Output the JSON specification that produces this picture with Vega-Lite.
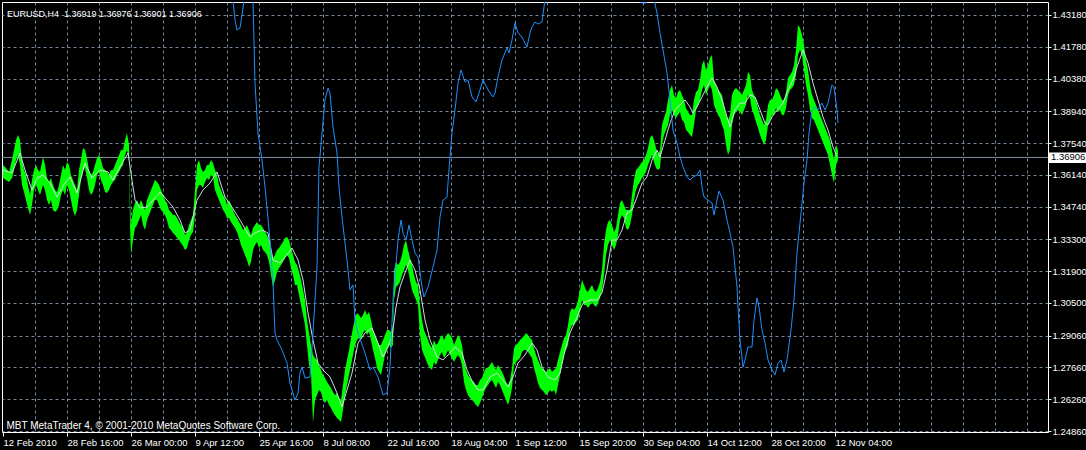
{
"$schema": "https://vega.github.io/schema/vega-lite/v6.json",
"width": 1046, "height": 430,
"autosize": "none",
"padding": {"left": 2, "top": 2, "right": 38, "bottom": 18},
"background": "#000000",
"config": {"view": {"stroke": "#ffffff", "strokeWidth": 1}, "font": "Liberation Sans",
  "axis": {"labelOverlap": false, "labelBound": false, "labelFlush": false},
  "axisY": {"labelOverlap": false}, "axisRight": {"labelOverlap": false}},
"title": {"text": "EURUSD,H4\u00a0 1.36919 1.36976 1.36901 1.36906", "anchor": "start", "frame": "group", "offset": -13, "dy": 11, "baseline": "alphabetic", "color": "#ffffff", "font": "Liberation Sans", "fontSize": 9, "fontWeight": "normal", "dx": 5},
"datasets": {
"px": [
{"i":0,"v":1.3657,"l":1.3600},{"i":3,"v":1.3644,"l":1.3591},{"i":6,"v":1.3627,"l":1.3583},{"i":9,"v":1.3679,"l":1.3600},{"i":11,"v":1.3723,"l":1.3635},{"i":13,"v":1.3767,"l":1.3679},{"i":15,"v":1.3789,"l":1.3701},{"i":17,"v":1.3767,"l":1.3657},{"i":19,"v":1.3679,"l":1.3569},{"i":21,"v":1.3635,"l":1.3538},{"i":23,"v":1.3613,"l":1.3503},{"i":25,"v":1.3569,"l":1.3468},{"i":27,"v":1.3525,"l":1.3437},{"i":29,"v":1.3591,"l":1.3481},{"i":31,"v":1.3635,"l":1.3547},{"i":33,"v":1.3657,"l":1.3569},{"i":35,"v":1.3635,"l":1.3547},{"i":37,"v":1.3627,"l":1.3525},{"i":40,"v":1.3693,"l":1.3569},{"i":42,"v":1.3657,"l":1.3547},{"i":44,"v":1.3600,"l":1.3503},{"i":46,"v":1.3583,"l":1.3481},{"i":48,"v":1.3600,"l":1.3503},{"i":50,"v":1.3569,"l":1.3459},{"i":52,"v":1.3547,"l":1.3450},{"i":54,"v":1.3538,"l":1.3459},{"i":56,"v":1.3569,"l":1.3481},{"i":58,"v":1.3613,"l":1.3525},{"i":60,"v":1.3657,"l":1.3547},{"i":62,"v":1.3635,"l":1.3525},{"i":64,"v":1.3671,"l":1.3569},{"i":66,"v":1.3657,"l":1.3547},{"i":68,"v":1.3613,"l":1.3503},{"i":70,"v":1.3591,"l":1.3459},{"i":72,"v":1.3569,"l":1.3433},{"i":74,"v":1.3547,"l":1.3459},{"i":76,"v":1.3635,"l":1.3525},{"i":78,"v":1.3679,"l":1.3591},{"i":80,"v":1.3732,"l":1.3635},{"i":82,"v":1.3723,"l":1.3644},{"i":84,"v":1.3688,"l":1.3600},{"i":86,"v":1.3635,"l":1.3547},{"i":88,"v":1.3613,"l":1.3525},{"i":90,"v":1.3627,"l":1.3538},{"i":92,"v":1.3657,"l":1.3569},{"i":94,"v":1.3688,"l":1.3613},{"i":96,"v":1.3701,"l":1.3627},{"i":98,"v":1.3679,"l":1.3591},{"i":100,"v":1.3644,"l":1.3569},{"i":102,"v":1.3635,"l":1.3538},{"i":104,"v":1.3627,"l":1.3534},{"i":106,"v":1.3613,"l":1.3547},{"i":108,"v":1.3635,"l":1.3569},{"i":110,"v":1.3635,"l":1.3583},{"i":112,"v":1.3657,"l":1.3591},{"i":114,"v":1.3679,"l":1.3613},{"i":116,"v":1.3701,"l":1.3627},{"i":118,"v":1.3723,"l":1.3644},{"i":120,"v":1.3723,"l":1.3657},{"i":122,"v":1.3767,"l":1.3701},{"i":124,"v":1.3798,"l":1.3723},{"i":126,"v":1.3745,"l":1.3679},{"i":127,"v":1.3503,"l":1.3393},{"i":128,"v":1.3393,"l":1.3261},{"i":130,"v":1.3459,"l":1.3327},{"i":132,"v":1.3490,"l":1.3380},{"i":134,"v":1.3503,"l":1.3393},{"i":136,"v":1.3481,"l":1.3415},{"i":138,"v":1.3503,"l":1.3437},{"i":140,"v":1.3481,"l":1.3393},{"i":142,"v":1.3459,"l":1.3371},{"i":144,"v":1.3503,"l":1.3415},{"i":146,"v":1.3525,"l":1.3437},{"i":148,"v":1.3547,"l":1.3459},{"i":150,"v":1.3569,"l":1.3481},{"i":152,"v":1.3591,"l":1.3503},{"i":154,"v":1.3583,"l":1.3503},{"i":156,"v":1.3569,"l":1.3481},{"i":158,"v":1.3547,"l":1.3459},{"i":160,"v":1.3525,"l":1.3450},{"i":162,"v":1.3503,"l":1.3437},{"i":164,"v":1.3490,"l":1.3415},{"i":166,"v":1.3459,"l":1.3380},{"i":168,"v":1.3450,"l":1.3371},{"i":170,"v":1.3437,"l":1.3358},{"i":172,"v":1.3437,"l":1.3349},{"i":174,"v":1.3424,"l":1.3336},{"i":176,"v":1.3406,"l":1.3327},{"i":178,"v":1.3393,"l":1.3314},{"i":180,"v":1.3380,"l":1.3301},{"i":182,"v":1.3349,"l":1.3283},{"i":184,"v":1.3362,"l":1.3292},{"i":186,"v":1.3393,"l":1.3327},{"i":188,"v":1.3415,"l":1.3349},{"i":190,"v":1.3437,"l":1.3362},{"i":192,"v":1.3547,"l":1.3437},{"i":194,"v":1.3657,"l":1.3547},{"i":196,"v":1.3679,"l":1.3569},{"i":198,"v":1.3644,"l":1.3569},{"i":200,"v":1.3627,"l":1.3556},{"i":202,"v":1.3635,"l":1.3583},{"i":204,"v":1.3657,"l":1.3600},{"i":206,"v":1.3657,"l":1.3591},{"i":208,"v":1.3679,"l":1.3613},{"i":210,"v":1.3666,"l":1.3605},{"i":212,"v":1.3635,"l":1.3547},{"i":214,"v":1.3613,"l":1.3525},{"i":216,"v":1.3569,"l":1.3503},{"i":218,"v":1.3547,"l":1.3481},{"i":220,"v":1.3525,"l":1.3459},{"i":222,"v":1.3512,"l":1.3446},{"i":224,"v":1.3481,"l":1.3424},{"i":226,"v":1.3503,"l":1.3424},{"i":228,"v":1.3481,"l":1.3406},{"i":230,"v":1.3459,"l":1.3393},{"i":232,"v":1.3437,"l":1.3380},{"i":234,"v":1.3424,"l":1.3362},{"i":236,"v":1.3406,"l":1.3336},{"i":238,"v":1.3393,"l":1.3305},{"i":240,"v":1.3371,"l":1.3283},{"i":242,"v":1.3380,"l":1.3261},{"i":244,"v":1.3393,"l":1.3239},{"i":246,"v":1.3371,"l":1.3208},{"i":248,"v":1.3349,"l":1.3230},{"i":250,"v":1.3380,"l":1.3283},{"i":252,"v":1.3393,"l":1.3305},{"i":254,"v":1.3406,"l":1.3318},{"i":256,"v":1.3393,"l":1.3292},{"i":258,"v":1.3393,"l":1.3305},{"i":260,"v":1.3380,"l":1.3283},{"i":262,"v":1.3362,"l":1.3274},{"i":264,"v":1.3349,"l":1.3261},{"i":266,"v":1.3327,"l":1.3230},{"i":268,"v":1.3283,"l":1.3173},{"i":270,"v":1.3248,"l":1.3120},{"i":272,"v":1.3261,"l":1.3151},{"i":274,"v":1.3283,"l":1.3186},{"i":276,"v":1.3292,"l":1.3204},{"i":278,"v":1.3305,"l":1.3217},{"i":280,"v":1.3318,"l":1.3230},{"i":282,"v":1.3336,"l":1.3248},{"i":284,"v":1.3340,"l":1.3261},{"i":286,"v":1.3327,"l":1.3248},{"i":288,"v":1.3292,"l":1.3204},{"i":290,"v":1.3261,"l":1.3173},{"i":292,"v":1.3230,"l":1.3129},{"i":294,"v":1.3217,"l":1.3129},{"i":296,"v":1.3186,"l":1.3085},{"i":298,"v":1.3151,"l":1.3041},{"i":300,"v":1.3107,"l":1.2997},{"i":302,"v":1.3063,"l":1.2953},{"i":304,"v":1.2975,"l":1.2865},{"i":306,"v":1.2918,"l":1.2777},{"i":308,"v":1.2865,"l":1.2741},{"i":310,"v":1.2821,"l":1.2521},{"i":312,"v":1.2807,"l":1.2622},{"i":314,"v":1.2799,"l":1.2645},{"i":316,"v":1.2777,"l":1.2667},{"i":318,"v":1.2755,"l":1.2658},{"i":320,"v":1.2733,"l":1.2622},{"i":322,"v":1.2719,"l":1.2609},{"i":324,"v":1.2702,"l":1.2622},{"i":326,"v":1.2689,"l":1.2600},{"i":328,"v":1.2675,"l":1.2587},{"i":330,"v":1.2658,"l":1.2570},{"i":332,"v":1.2645,"l":1.2556},{"i":334,"v":1.2653,"l":1.2543},{"i":336,"v":1.2631,"l":1.2534},{"i":338,"v":1.2622,"l":1.2526},{"i":340,"v":1.2689,"l":1.2578},{"i":342,"v":1.2755,"l":1.2645},{"i":344,"v":1.2799,"l":1.2689},{"i":346,"v":1.2843,"l":1.2733},{"i":348,"v":1.2896,"l":1.2777},{"i":350,"v":1.2940,"l":1.2821},{"i":352,"v":1.2984,"l":1.2865},{"i":354,"v":1.3006,"l":1.2887},{"i":356,"v":1.2997,"l":1.2896},{"i":358,"v":1.2984,"l":1.2887},{"i":360,"v":1.2997,"l":1.2918},{"i":362,"v":1.3019,"l":1.2931},{"i":364,"v":1.2997,"l":1.2909},{"i":366,"v":1.3010,"l":1.2922},{"i":368,"v":1.2975,"l":1.2887},{"i":370,"v":1.2931,"l":1.2843},{"i":372,"v":1.2909,"l":1.2807},{"i":374,"v":1.2887,"l":1.2763},{"i":376,"v":1.2865,"l":1.2746},{"i":378,"v":1.2865,"l":1.2733},{"i":380,"v":1.2887,"l":1.2777},{"i":382,"v":1.2909,"l":1.2821},{"i":384,"v":1.2931,"l":1.2843},{"i":386,"v":1.2931,"l":1.2865},{"i":388,"v":1.2922,"l":1.2851},{"i":390,"v":1.2953,"l":1.2865},{"i":391,"v":1.3195,"l":1.3063},{"i":393,"v":1.3230,"l":1.3120},{"i":395,"v":1.3217,"l":1.3129},{"i":397,"v":1.3230,"l":1.3142},{"i":399,"v":1.3261,"l":1.3173},{"i":401,"v":1.3305,"l":1.3195},{"i":403,"v":1.3327,"l":1.3217},{"i":405,"v":1.3283,"l":1.3195},{"i":407,"v":1.3248,"l":1.3151},{"i":409,"v":1.3217,"l":1.3107},{"i":411,"v":1.3173,"l":1.3085},{"i":413,"v":1.3142,"l":1.3063},{"i":415,"v":1.3129,"l":1.3041},{"i":417,"v":1.3041,"l":1.2909},{"i":419,"v":1.2975,"l":1.2843},{"i":421,"v":1.2931,"l":1.2821},{"i":423,"v":1.2909,"l":1.2799},{"i":425,"v":1.2887,"l":1.2777},{"i":427,"v":1.2865,"l":1.2763},{"i":429,"v":1.2851,"l":1.2755},{"i":431,"v":1.2887,"l":1.2790},{"i":433,"v":1.2865,"l":1.2777},{"i":435,"v":1.2873,"l":1.2799},{"i":437,"v":1.2896,"l":1.2821},{"i":439,"v":1.2909,"l":1.2834},{"i":441,"v":1.2887,"l":1.2807},{"i":443,"v":1.2904,"l":1.2821},{"i":445,"v":1.2918,"l":1.2843},{"i":447,"v":1.2909,"l":1.2821},{"i":449,"v":1.2896,"l":1.2807},{"i":451,"v":1.2865,"l":1.2790},{"i":453,"v":1.2887,"l":1.2807},{"i":455,"v":1.2909,"l":1.2821},{"i":457,"v":1.2896,"l":1.2807},{"i":459,"v":1.2865,"l":1.2777},{"i":461,"v":1.2799,"l":1.2702},{"i":463,"v":1.2755,"l":1.2667},{"i":465,"v":1.2733,"l":1.2645},{"i":467,"v":1.2719,"l":1.2631},{"i":469,"v":1.2711,"l":1.2622},{"i":471,"v":1.2702,"l":1.2614},{"i":473,"v":1.2689,"l":1.2600},{"i":475,"v":1.2689,"l":1.2592},{"i":477,"v":1.2711,"l":1.2609},{"i":479,"v":1.2719,"l":1.2631},{"i":481,"v":1.2746,"l":1.2658},{"i":483,"v":1.2763,"l":1.2675},{"i":485,"v":1.2763,"l":1.2689},{"i":487,"v":1.2777,"l":1.2702},{"i":489,"v":1.2790,"l":1.2711},{"i":491,"v":1.2772,"l":1.2693},{"i":493,"v":1.2755,"l":1.2675},{"i":495,"v":1.2777,"l":1.2702},{"i":497,"v":1.2763,"l":1.2689},{"i":499,"v":1.2746,"l":1.2667},{"i":501,"v":1.2728,"l":1.2645},{"i":503,"v":1.2702,"l":1.2622},{"i":505,"v":1.2689,"l":1.2600},{"i":507,"v":1.2711,"l":1.2631},{"i":509,"v":1.2763,"l":1.2675},{"i":511,"v":1.2851,"l":1.2777},{"i":513,"v":1.2865,"l":1.2790},{"i":515,"v":1.2873,"l":1.2799},{"i":517,"v":1.2887,"l":1.2807},{"i":519,"v":1.2896,"l":1.2834},{"i":521,"v":1.2904,"l":1.2843},{"i":523,"v":1.2918,"l":1.2843},{"i":525,"v":1.2909,"l":1.2834},{"i":527,"v":1.2896,"l":1.2821},{"i":529,"v":1.2887,"l":1.2807},{"i":531,"v":1.2851,"l":1.2763},{"i":533,"v":1.2821,"l":1.2733},{"i":535,"v":1.2799,"l":1.2697},{"i":537,"v":1.2777,"l":1.2675},{"i":539,"v":1.2763,"l":1.2667},{"i":541,"v":1.2755,"l":1.2658},{"i":543,"v":1.2746,"l":1.2645},{"i":545,"v":1.2755,"l":1.2653},{"i":547,"v":1.2763,"l":1.2667},{"i":549,"v":1.2746,"l":1.2658},{"i":551,"v":1.2755,"l":1.2667},{"i":553,"v":1.2763,"l":1.2645},{"i":555,"v":1.2799,"l":1.2689},{"i":557,"v":1.2834,"l":1.2733},{"i":559,"v":1.2865,"l":1.2777},{"i":561,"v":1.2896,"l":1.2821},{"i":563,"v":1.2909,"l":1.2843},{"i":565,"v":1.2953,"l":1.2865},{"i":567,"v":1.3010,"l":1.2931},{"i":569,"v":1.3028,"l":1.2953},{"i":571,"v":1.3019,"l":1.2953},{"i":573,"v":1.3032,"l":1.2966},{"i":575,"v":1.3063,"l":1.2975},{"i":577,"v":1.3107,"l":1.3019},{"i":579,"v":1.3151,"l":1.3063},{"i":581,"v":1.3129,"l":1.3041},{"i":583,"v":1.3107,"l":1.3041},{"i":585,"v":1.3098,"l":1.3028},{"i":587,"v":1.3116,"l":1.3041},{"i":589,"v":1.3129,"l":1.3054},{"i":591,"v":1.3107,"l":1.3041},{"i":593,"v":1.3098,"l":1.3032},{"i":595,"v":1.3116,"l":1.3050},{"i":597,"v":1.3142,"l":1.3072},{"i":599,"v":1.3195,"l":1.3107},{"i":601,"v":1.3305,"l":1.3173},{"i":603,"v":1.3371,"l":1.3261},{"i":605,"v":1.3406,"l":1.3305},{"i":607,"v":1.3415,"l":1.3327},{"i":609,"v":1.3393,"l":1.3305},{"i":611,"v":1.3362,"l":1.3283},{"i":613,"v":1.3380,"l":1.3305},{"i":615,"v":1.3437,"l":1.3349},{"i":617,"v":1.3490,"l":1.3415},{"i":619,"v":1.3503,"l":1.3437},{"i":621,"v":1.3481,"l":1.3424},{"i":623,"v":1.3459,"l":1.3380},{"i":625,"v":1.3459,"l":1.3371},{"i":627,"v":1.3459,"l":1.3393},{"i":629,"v":1.3525,"l":1.3437},{"i":631,"v":1.3591,"l":1.3503},{"i":633,"v":1.3635,"l":1.3547},{"i":635,"v":1.3644,"l":1.3569},{"i":637,"v":1.3657,"l":1.3583},{"i":639,"v":1.3671,"l":1.3600},{"i":641,"v":1.3679,"l":1.3613},{"i":643,"v":1.3701,"l":1.3627},{"i":645,"v":1.3732,"l":1.3657},{"i":647,"v":1.3776,"l":1.3679},{"i":649,"v":1.3789,"l":1.3701},{"i":651,"v":1.3767,"l":1.3671},{"i":653,"v":1.3732,"l":1.3644},{"i":655,"v":1.3701,"l":1.3635},{"i":657,"v":1.3723,"l":1.3644},{"i":659,"v":1.3834,"l":1.3745},{"i":661,"v":1.3864,"l":1.3789},{"i":663,"v":1.3891,"l":1.3812},{"i":665,"v":1.3944,"l":1.3834},{"i":667,"v":1.3988,"l":1.3878},{"i":669,"v":1.4010,"l":1.3900},{"i":671,"v":1.3966,"l":1.3878},{"i":673,"v":1.3952,"l":1.3864},{"i":675,"v":1.3979,"l":1.3878},{"i":677,"v":1.3988,"l":1.3891},{"i":679,"v":1.3966,"l":1.3856},{"i":681,"v":1.3944,"l":1.3847},{"i":683,"v":1.3908,"l":1.3812},{"i":685,"v":1.3891,"l":1.3803},{"i":687,"v":1.3878,"l":1.3789},{"i":689,"v":1.3878,"l":1.3781},{"i":691,"v":1.3944,"l":1.3834},{"i":693,"v":1.3979,"l":1.3900},{"i":695,"v":1.3988,"l":1.3922},{"i":697,"v":1.4032,"l":1.3944},{"i":699,"v":1.4098,"l":1.3988},{"i":701,"v":1.4120,"l":1.4010},{"i":703,"v":1.4076,"l":1.3966},{"i":705,"v":1.4098,"l":1.3988},{"i":707,"v":1.4129,"l":1.4010},{"i":709,"v":1.4142,"l":1.3988},{"i":711,"v":1.4032,"l":1.3922},{"i":713,"v":1.4010,"l":1.3900},{"i":715,"v":1.3988,"l":1.3878},{"i":717,"v":1.3979,"l":1.3864},{"i":719,"v":1.3966,"l":1.3834},{"i":721,"v":1.3922,"l":1.3812},{"i":723,"v":1.3878,"l":1.3745},{"i":725,"v":1.3856,"l":1.3701},{"i":727,"v":1.3878,"l":1.3723},{"i":729,"v":1.3966,"l":1.3834},{"i":731,"v":1.3988,"l":1.3878},{"i":733,"v":1.3996,"l":1.3891},{"i":735,"v":1.3988,"l":1.3900},{"i":737,"v":1.3979,"l":1.3891},{"i":739,"v":1.3966,"l":1.3878},{"i":741,"v":1.3988,"l":1.3900},{"i":743,"v":1.4010,"l":1.3922},{"i":745,"v":1.4067,"l":1.3966},{"i":747,"v":1.4054,"l":1.3952},{"i":749,"v":1.3988,"l":1.3900},{"i":751,"v":1.3966,"l":1.3878},{"i":753,"v":1.3944,"l":1.3847},{"i":755,"v":1.3908,"l":1.3820},{"i":757,"v":1.3878,"l":1.3789},{"i":759,"v":1.3856,"l":1.3767},{"i":761,"v":1.3834,"l":1.3745},{"i":763,"v":1.3856,"l":1.3767},{"i":765,"v":1.3922,"l":1.3834},{"i":767,"v":1.3944,"l":1.3856},{"i":769,"v":1.3944,"l":1.3878},{"i":771,"v":1.3966,"l":1.3878},{"i":773,"v":1.3996,"l":1.3908},{"i":775,"v":1.3988,"l":1.3891},{"i":777,"v":1.3966,"l":1.3900},{"i":779,"v":1.3944,"l":1.3878},{"i":781,"v":1.3944,"l":1.3878},{"i":783,"v":1.3979,"l":1.3908},{"i":785,"v":1.4041,"l":1.3966},{"i":787,"v":1.4054,"l":1.3988},{"i":789,"v":1.4067,"l":1.3996},{"i":791,"v":1.4098,"l":1.4010},{"i":793,"v":1.4164,"l":1.4054},{"i":795,"v":1.4274,"l":1.4142},{"i":797,"v":1.4261,"l":1.4164},{"i":799,"v":1.4230,"l":1.4142},{"i":801,"v":1.4186,"l":1.4076},{"i":803,"v":1.4120,"l":1.4010},{"i":805,"v":1.4076,"l":1.3966},{"i":807,"v":1.4010,"l":1.3900},{"i":809,"v":1.3966,"l":1.3864},{"i":811,"v":1.3944,"l":1.3856},{"i":813,"v":1.3922,"l":1.3834},{"i":815,"v":1.3900,"l":1.3812},{"i":817,"v":1.3878,"l":1.3789},{"i":819,"v":1.3856,"l":1.3767},{"i":821,"v":1.3834,"l":1.3745},{"i":823,"v":1.3812,"l":1.3723},{"i":825,"v":1.3789,"l":1.3701},{"i":827,"v":1.3767,"l":1.3657},{"i":829,"v":1.3723,"l":1.3613},{"i":831,"v":1.3679,"l":1.3578},{"i":833,"v":1.3745,"l":1.3657},{"i":835,"v":1.3723,"l":1.3679}
],
"ma": [
{"i":0,"v":1.3635},{"i":9,"v":1.3622},{"i":17,"v":1.3710},{"i":22,"v":1.3635},{"i":29,"v":1.3547},{"i":34,"v":1.3600},{"i":40,"v":1.3613},{"i":47,"v":1.3578},{"i":54,"v":1.3516},{"i":62,"v":1.3578},{"i":67,"v":1.3605},{"i":74,"v":1.3534},{"i":82,"v":1.3666},{"i":89,"v":1.3600},{"i":97,"v":1.3635},{"i":105,"v":1.3627},{"i":110,"v":1.3591},{"i":117,"v":1.3649},{"i":125,"v":1.3710},{"i":129,"v":1.3591},{"i":132,"v":1.3503},{"i":137,"v":1.3468},{"i":144,"v":1.3472},{"i":150,"v":1.3503},{"i":157,"v":1.3538},{"i":164,"v":1.3503},{"i":170,"v":1.3472},{"i":177,"v":1.3415},{"i":182,"v":1.3358},{"i":187,"v":1.3371},{"i":194,"v":1.3503},{"i":200,"v":1.3547},{"i":207,"v":1.3578},{"i":214,"v":1.3627},{"i":222,"v":1.3516},{"i":229,"v":1.3472},{"i":237,"v":1.3415},{"i":247,"v":1.3340},{"i":252,"v":1.3358},{"i":259,"v":1.3371},{"i":265,"v":1.3358},{"i":270,"v":1.3239},{"i":277,"v":1.3226},{"i":284,"v":1.3261},{"i":289,"v":1.3292},{"i":295,"v":1.3239},{"i":300,"v":1.3151},{"i":305,"v":1.3006},{"i":310,"v":1.2887},{"i":315,"v":1.2785},{"i":320,"v":1.2755},{"i":327,"v":1.2724},{"i":334,"v":1.2653},{"i":339,"v":1.2592},{"i":344,"v":1.2667},{"i":349,"v":1.2741},{"i":355,"v":1.2873},{"i":362,"v":1.2918},{"i":369,"v":1.2940},{"i":375,"v":1.2873},{"i":380,"v":1.2812},{"i":385,"v":1.2856},{"i":389,"v":1.2900},{"i":393,"v":1.3032},{"i":397,"v":1.3120},{"i":402,"v":1.3182},{"i":407,"v":1.3239},{"i":412,"v":1.3195},{"i":417,"v":1.3107},{"i":422,"v":1.2975},{"i":427,"v":1.2887},{"i":434,"v":1.2812},{"i":440,"v":1.2799},{"i":447,"v":1.2829},{"i":452,"v":1.2856},{"i":459,"v":1.2829},{"i":464,"v":1.2755},{"i":470,"v":1.2697},{"i":475,"v":1.2667},{"i":480,"v":1.2667},{"i":487,"v":1.2724},{"i":494,"v":1.2741},{"i":500,"v":1.2711},{"i":505,"v":1.2680},{"i":510,"v":1.2724},{"i":515,"v":1.2785},{"i":522,"v":1.2821},{"i":529,"v":1.2873},{"i":534,"v":1.2843},{"i":539,"v":1.2768},{"i":545,"v":1.2724},{"i":552,"v":1.2711},{"i":557,"v":1.2741},{"i":562,"v":1.2843},{"i":567,"v":1.2918},{"i":574,"v":1.2988},{"i":580,"v":1.3050},{"i":587,"v":1.3063},{"i":594,"v":1.3063},{"i":599,"v":1.3094},{"i":604,"v":1.3195},{"i":609,"v":1.3327},{"i":614,"v":1.3327},{"i":619,"v":1.3371},{"i":624,"v":1.3446},{"i":629,"v":1.3459},{"i":634,"v":1.3516},{"i":639,"v":1.3578},{"i":644,"v":1.3605},{"i":649,"v":1.3679},{"i":654,"v":1.3723},{"i":657,"v":1.3693},{"i":662,"v":1.3767},{"i":667,"v":1.3842},{"i":672,"v":1.3900},{"i":677,"v":1.3922},{"i":682,"v":1.3944},{"i":687,"v":1.3913},{"i":690,"v":1.3886},{"i":694,"v":1.3913},{"i":699,"v":1.3957},{"i":704,"v":1.4001},{"i":709,"v":1.4041},{"i":714,"v":1.4001},{"i":719,"v":1.3944},{"i":724,"v":1.3869},{"i":727,"v":1.3825},{"i":732,"v":1.3900},{"i":737,"v":1.3930},{"i":742,"v":1.3930},{"i":747,"v":1.3966},{"i":752,"v":1.3957},{"i":757,"v":1.3900},{"i":762,"v":1.3842},{"i":765,"v":1.3834},{"i":769,"v":1.3869},{"i":774,"v":1.3900},{"i":780,"v":1.3930},{"i":785,"v":1.3988},{"i":790,"v":1.4032},{"i":794,"v":1.4089},{"i":800,"v":1.4164},{"i":805,"v":1.4107},{"i":810,"v":1.4018},{"i":815,"v":1.3944},{"i":820,"v":1.3869},{"i":825,"v":1.3812},{"i":830,"v":1.3737},{"i":834,"v":1.3693}
],
"blue": [
{"i":227,"v":1.4648},{"i":230,"v":1.4384},{"i":232,"v":1.4296},{"i":234,"v":1.4252},{"i":237,"v":1.4261},{"i":239,"v":1.4318},{"i":241,"v":1.4384},{"i":244,"v":1.4560},{"i":248,"v":1.4472},{"i":250,"v":1.4384},{"i":252,"v":1.4018},{"i":255,"v":1.3798},{"i":259,"v":1.3679},{"i":262,"v":1.3560},{"i":267,"v":1.3327},{"i":270,"v":1.3138},{"i":272,"v":1.2918},{"i":274,"v":1.2887},{"i":279,"v":1.2843},{"i":284,"v":1.2785},{"i":287,"v":1.2697},{"i":292,"v":1.2622},{"i":295,"v":1.2653},{"i":297,"v":1.2741},{"i":299,"v":1.2768},{"i":302,"v":1.2719},{"i":307,"v":1.2724},{"i":310,"v":1.2918},{"i":314,"v":1.3208},{"i":316,"v":1.3649},{"i":319,"v":1.3798},{"i":322,"v":1.3944},{"i":325,"v":1.3996},{"i":327,"v":1.3974},{"i":330,"v":1.3825},{"i":334,"v":1.3710},{"i":336,"v":1.3560},{"i":339,"v":1.3428},{"i":344,"v":1.3239},{"i":347,"v":1.3107},{"i":350,"v":1.3129},{"i":352,"v":1.2975},{"i":355,"v":1.2918},{"i":362,"v":1.2829},{"i":367,"v":1.2755},{"i":370,"v":1.2768},{"i":375,"v":1.2724},{"i":380,"v":1.2645},{"i":384,"v":1.2653},{"i":387,"v":1.2768},{"i":390,"v":1.3063},{"i":395,"v":1.3327},{"i":398,"v":1.3415},{"i":400,"v":1.3358},{"i":403,"v":1.3327},{"i":406,"v":1.3393},{"i":409,"v":1.3327},{"i":412,"v":1.3270},{"i":415,"v":1.3252},{"i":419,"v":1.3120},{"i":421,"v":1.3076},{"i":425,"v":1.3120},{"i":430,"v":1.3208},{"i":434,"v":1.3283},{"i":437,"v":1.3428},{"i":440,"v":1.3503},{"i":444,"v":1.3516},{"i":445,"v":1.3578},{"i":447,"v":1.3693},{"i":449,"v":1.3798},{"i":452,"v":1.3900},{"i":455,"v":1.4018},{"i":458,"v":1.4076},{"i":462,"v":1.4023},{"i":465,"v":1.4032},{"i":469,"v":1.3957},{"i":473,"v":1.3935},{"i":477,"v":1.3988},{"i":480,"v":1.4032},{"i":485,"v":1.3988},{"i":490,"v":1.3957},{"i":492,"v":1.3974},{"i":495,"v":1.4045},{"i":499,"v":1.4120},{"i":504,"v":1.4173},{"i":506,"v":1.4151},{"i":509,"v":1.4208},{"i":512,"v":1.4283},{"i":515,"v":1.4239},{"i":519,"v":1.4221},{"i":524,"v":1.4177},{"i":527,"v":1.4239},{"i":529,"v":1.4265},{"i":532,"v":1.4287},{"i":535,"v":1.4278},{"i":539,"v":1.4287},{"i":541,"v":1.4353},{"i":543,"v":1.4428},{"i":557,"v":1.4736},{"i":617,"v":1.4648},{"i":635,"v":1.4406},{"i":638,"v":1.4371},{"i":643,"v":1.4371},{"i":646,"v":1.4406},{"i":650,"v":1.4406},{"i":654,"v":1.4327},{"i":657,"v":1.4239},{"i":660,"v":1.4164},{"i":664,"v":1.4063},{"i":667,"v":1.3944},{"i":670,"v":1.3811},{"i":674,"v":1.3754},{"i":677,"v":1.3693},{"i":680,"v":1.3649},{"i":684,"v":1.3605},{"i":687,"v":1.3591},{"i":690,"v":1.3605},{"i":694,"v":1.3613},{"i":697,"v":1.3635},{"i":699,"v":1.3560},{"i":701,"v":1.3516},{"i":705,"v":1.3503},{"i":709,"v":1.3490},{"i":711,"v":1.3437},{"i":714,"v":1.3503},{"i":716,"v":1.3543},{"i":720,"v":1.3503},{"i":724,"v":1.3415},{"i":727,"v":1.3358},{"i":730,"v":1.3296},{"i":734,"v":1.3120},{"i":735,"v":1.3032},{"i":737,"v":1.2887},{"i":740,"v":1.2768},{"i":742,"v":1.2799},{"i":745,"v":1.2856},{"i":749,"v":1.2856},{"i":751,"v":1.2975},{"i":754,"v":1.3072},{"i":756,"v":1.3032},{"i":759,"v":1.2931},{"i":762,"v":1.2873},{"i":765,"v":1.2799},{"i":769,"v":1.2755},{"i":772,"v":1.2733},{"i":775,"v":1.2785},{"i":778,"v":1.2799},{"i":781,"v":1.2746},{"i":784,"v":1.2799},{"i":788,"v":1.2931},{"i":791,"v":1.3063},{"i":794,"v":1.3270},{"i":798,"v":1.3446},{"i":801,"v":1.3578},{"i":804,"v":1.3679},{"i":806,"v":1.3798},{"i":809,"v":1.3900},{"i":812,"v":1.3913},{"i":815,"v":1.3900},{"i":819,"v":1.3930},{"i":822,"v":1.3900},{"i":825,"v":1.3930},{"i":829,"v":1.4010},{"i":831,"v":1.4001},{"i":834,"v":1.3900},{"i":835,"v":1.3842}
]
},
"encoding": {
 "x": {"field": "i", "type": "quantitative",
  "scale": {"domain": [-1, 1045], "nice": false, "zero": false},
  "axis": {"values": [0,32,64,96,128,160,192,224,256,288,320,352,384,416,448,480,512,544,576,608,640,672,704,736,768,800,832,864,896,928,960,992,1024],
   "labelExpr": "(datum.value % 64 === 0 && datum.value <= 832) ? ['12 Feb 2010','28 Feb 16:00','26 Mar 00:00','9 Apr 12:00','25 Apr 16:00','8 Jul 08:00','22 Jul 16:00','18 Aug 04:00','1 Sep 12:00','15 Sep 20:00','30 Sep 04:00','14 Oct 12:00','28 Oct 20:00','12 Nov 04:00'][datum.value / 64] : ''",
   "domain": false, "grid": true, "gridDash": [3,3], "gridWidth": 1,
   "gridColor": {"condition": {"test": "datum.value === 0", "value": "transparent"}, "value": "#778899"},
   "ticks": true, "tickSize": 4,
   "tickColor": {"condition": {"test": "datum.value % 64 === 0 && datum.value <= 832", "value": "#ffffff"}, "value": "transparent"},
   "labelColor": "#ffffff", "labelFont": "Liberation Sans", "labelFontSize": 9.5, "labelAlign": "left", "labelBaseline": "alphabetic", "labelPadding": 9, "labelDx": 1,
   "labelOverlap": false, "labelBound": false, "labelFlush": false,
   "title": "MBT MetaTrader 4, © 2001-2010 MetaQuotes Software Corp.", "titleColor": "#ffffff", "titleFont": "Liberation Sans", "titleFontSize": 10, "titleFontWeight": "normal",
   "titleAnchor": "start", "titleAlign": "left", "titleBaseline": "alphabetic", "titleX": 4, "titleY": -4}},
 "y": {"field": "v", "type": "quantitative",
  "scale": {"domain": [1.24816, 1.43752], "nice": false, "zero": false},
  "axis": {"orient": "right", "values": [1.2486,1.2626,1.2766,1.2906,1.305,1.319,1.333,1.3474,1.3614,1.3754,1.3894,1.4038,1.4178,1.4318],
   "format": ".5f", "title": null, "domain": false, "grid": true, "gridColor": "#778899", "gridDash": [3,3], "gridWidth": 1,
   "ticks": true, "tickSize": 3, "tickColor": "#ffffff", "labelColor": "#ffffff", "labelFont": "Liberation Sans", "labelFontSize": 9.5,
   "labelPadding": 1, "labelBaseline": "middle", "labelAlign": "left", "labelBound": false, "labelFlush": false, "labelOverlap": false}}
},
"layer": [
{"data": {"values": [{"i": -1, "i2": 1045, "v": 1.36906}]},
 "mark": {"type": "rule", "color": "#7f8ea3", "strokeWidth": 1},
 "encoding": {"x2": {"field": "i2"}}},
{"data": {"name": "px"},
 "mark": {"type": "area", "color": "#00ff00", "clip": true, "opacity": 1},
 "encoding": {"y2": {"field": "l"}}},
{"data": {"name": "ma"},
 "mark": {"type": "line", "color": "#cfdbe6", "strokeWidth": 1, "clip": true},
 "encoding": {}},
{"data": {"name": "blue"},
 "mark": {"type": "line", "color": "#1e90ff", "strokeWidth": 1, "clip": true},
 "encoding": {}},
{"data": {"values": [{"i": 1046, "i2": 1083, "v": 1.37124, "l": 1.3666}]},
 "mark": {"type": "rect", "color": "#ffffff", "clip": false},
 "encoding": {"x2": {"field": "i2"}, "y2": {"field": "l"}}},
{"data": {"values": [{"i": 1048, "v": 1.36906, "t": "1.36906"}]},
 "mark": {"type": "text", "color": "#000000", "align": "left", "baseline": "middle", "font": "Liberation Sans", "fontSize": 9.5, "clip": false},
 "encoding": {"text": {"field": "t"}}}
]
}
